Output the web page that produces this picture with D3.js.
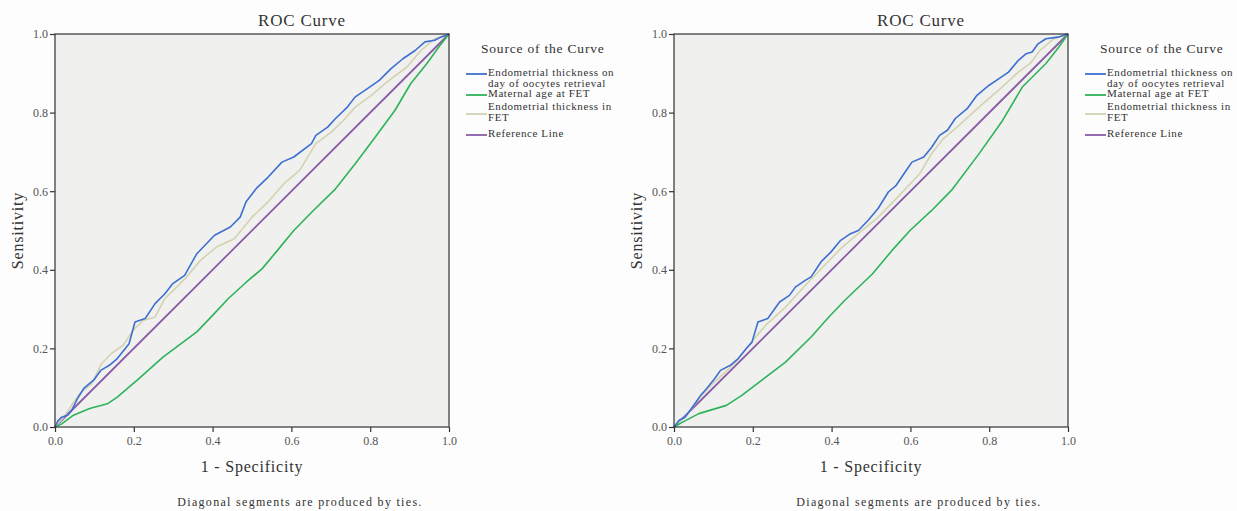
<!DOCTYPE html>
<html>
<head>
<meta charset="utf-8">
<script src="https://cdnjs.cloudflare.com/ajax/libs/d3/7.8.5/d3.min.js"></script>
<style>
  body { margin: 0; background: #fdfdfd; }
  svg { display: block; }
  text { font-family: "Liberation Serif", "DejaVu Serif", serif; }
</style>
</head>
<body>
<div id="chart"></div>
<script>
// ROC points, [1 - specificity, sensitivity]
var leftRetrieval = [[0,0],[0.007,0.015],[0.017,0.025],[0.032,0.03],[0.042,0.042],[0.057,0.072],[0.073,0.098],[0.098,0.119],[0.116,0.144],[0.138,0.157],[0.158,0.174],[0.188,0.212],[0.203,0.267],[0.229,0.276],[0.254,0.314],[0.279,0.339],[0.299,0.365],[0.329,0.386],[0.36,0.441],[0.38,0.462],[0.405,0.488],[0.445,0.509],[0.47,0.534],[0.485,0.573],[0.511,0.607],[0.541,0.636],[0.576,0.674],[0.606,0.687],[0.651,0.721],[0.662,0.742],[0.692,0.763],[0.712,0.785],[0.742,0.814],[0.762,0.84],[0.793,0.861],[0.823,0.882],[0.853,0.912],[0.883,0.937],[0.914,0.958],[0.939,0.98],[0.964,0.984],[0.979,0.992],[1,1]];
var leftAge = [[0,0],[0.017,0.008],[0.047,0.03],[0.088,0.047],[0.133,0.059],[0.158,0.076],[0.213,0.123],[0.274,0.178],[0.36,0.242],[0.4,0.284],[0.44,0.327],[0.486,0.369],[0.526,0.403],[0.561,0.445],[0.606,0.5],[0.652,0.547],[0.712,0.606],[0.762,0.67],[0.813,0.738],[0.863,0.806],[0.903,0.874],[0.944,0.925],[0.974,0.967],[1,1]];
var leftFet = [[0,0],[0.022,0.025],[0.042,0.055],[0.062,0.085],[0.093,0.11],[0.118,0.161],[0.143,0.187],[0.173,0.208],[0.198,0.246],[0.224,0.271],[0.254,0.28],[0.279,0.327],[0.309,0.356],[0.334,0.382],[0.369,0.424],[0.41,0.458],[0.455,0.479],[0.5,0.534],[0.541,0.573],[0.581,0.619],[0.621,0.653],[0.662,0.721],[0.702,0.751],[0.732,0.78],[0.762,0.814],[0.803,0.844],[0.843,0.878],[0.893,0.916],[0.929,0.958],[0.964,0.988],[1,1]];

var rightRetrieval = [[0,0],[0.013,0.017],[0.028,0.025],[0.053,0.059],[0.068,0.081],[0.083,0.098],[0.103,0.123],[0.118,0.144],[0.143,0.157],[0.163,0.174],[0.183,0.199],[0.198,0.216],[0.213,0.267],[0.238,0.276],[0.268,0.318],[0.293,0.335],[0.308,0.356],[0.333,0.373],[0.348,0.382],[0.373,0.42],[0.398,0.445],[0.423,0.475],[0.448,0.492],[0.468,0.5],[0.493,0.526],[0.518,0.556],[0.544,0.598],[0.564,0.615],[0.584,0.645],[0.604,0.674],[0.634,0.687],[0.654,0.712],[0.674,0.742],[0.694,0.755],[0.714,0.785],[0.744,0.81],[0.769,0.844],[0.799,0.869],[0.824,0.886],[0.849,0.903],[0.874,0.933],[0.894,0.95],[0.909,0.954],[0.924,0.975],[0.944,0.988],[0.974,0.992],[1,1]];
var rightAge = [[0,0],[0.023,0.013],[0.063,0.034],[0.133,0.055],[0.173,0.081],[0.223,0.119],[0.283,0.165],[0.348,0.229],[0.393,0.28],[0.433,0.322],[0.504,0.39],[0.554,0.45],[0.599,0.5],[0.654,0.551],[0.704,0.602],[0.774,0.695],[0.834,0.78],[0.884,0.865],[0.944,0.925],[0.974,0.963],[1,1]];
var rightFet = [[0,0],[0.028,0.025],[0.063,0.072],[0.103,0.115],[0.153,0.161],[0.193,0.212],[0.233,0.259],[0.283,0.305],[0.333,0.36],[0.378,0.407],[0.423,0.454],[0.463,0.488],[0.514,0.53],[0.564,0.581],[0.624,0.645],[0.654,0.696],[0.684,0.734],[0.724,0.768],[0.774,0.814],[0.824,0.857],[0.874,0.903],[0.904,0.925],[0.929,0.958],[0.964,0.988],[1,1]];

var referenceLine = [[0,0],[1,1]];
var tickValues = [0, 0.2, 0.4, 0.6, 0.8, 1.0];
var legendLabels = [["Endometrial thickness on", "day of oocytes retrieval"], ["Maternal age at FET"], ["Endometrial thickness in", "FET"], ["Reference Line"]];
var colors = ["#3d6fd2", "#2eb35a", "#d3d3b2", "#8a5ca6"];

var W = 1237, H = 511;
var svg = d3.select("#chart").append("svg").attr("width", W).attr("height", H);

function drawPanel(left, series) {
  var top = 34, w = 394, h = 393;
  var x = d3.scaleLinear().domain([0, 1]).range([0, w]);
  var y = d3.scaleLinear().domain([0, 1]).range([h, 0]);
  var g = svg.append("g").attr("transform", "translate(" + left + "," + top + ")");

  g.append("rect").attr("width", w).attr("height", h).attr("fill", "#f0f0ef");

  var line = d3.line().x(function(d) { return x(d[0]); }).y(function(d) { return y(d[1]); });
  // reference first, then the curves on top
  g.append("path").datum(referenceLine).attr("d", line)
    .attr("fill", "none").attr("stroke", colors[3]).attr("stroke-width", 1.8);
  [[series[2], colors[2]], [series[1], colors[1]], [series[0], colors[0]]].forEach(function(s) {
    g.append("path").datum(s[0]).attr("d", line)
      .attr("fill", "none").attr("stroke", s[1]).attr("stroke-width", 1.6)
      .attr("stroke-linejoin", "round");
  });

  g.append("rect").attr("width", w).attr("height", h)
    .attr("fill", "none").attr("stroke", "#333").attr("stroke-width", 1.2);

  var fmt = d3.format(".1f");
  var xa = g.append("g").attr("transform", "translate(0," + h + ")")
    .call(d3.axisBottom(x).tickValues(tickValues).tickFormat(fmt).tickSize(5).tickPadding(4));
  var ya = g.append("g")
    .call(d3.axisLeft(y).tickValues(tickValues).tickFormat(fmt).tickSize(5).tickPadding(2));
  [xa, ya].forEach(function(a) {
    a.select(".domain").remove();
    a.selectAll("line").attr("stroke", "#333").attr("stroke-width", 1.2);
    a.selectAll("text").attr("fill", "#555").style("font-size", "12px")
      .style("font-family", "'Liberation Serif', serif");
  });

  g.append("text").attr("x", 247).attr("y", -8).attr("text-anchor", "middle")
    .attr("fill", "#333").style("font-size", "17px").style("letter-spacing", "0.8px").text("ROC Curve");
  g.append("text").attr("transform", "translate(-32," + (h / 2) + ") rotate(-90)")
    .attr("text-anchor", "middle").attr("fill", "#333").style("font-size", "16px")
    .style("letter-spacing", "0.8px").text("Sensitivity");
  g.append("text").attr("x", w / 2).attr("y", h + 45).attr("text-anchor", "middle")
    .attr("fill", "#333").style("font-size", "16px").style("letter-spacing", "0.8px").text("1 - Specificity");
  g.append("text").attr("x", 245).attr("y", h + 79).attr("text-anchor", "middle")
    .attr("fill", "#333").style("font-size", "12px").style("letter-spacing", "1.3px")
    .text("Diagonal segments are produced by ties.");

  // legend
  var lg = g.append("g").attr("transform", "translate(" + (w + 17) + ",0)");
  lg.append("text").attr("x", 15).attr("y", 19).attr("fill", "#333")
    .style("font-size", "13.5px").style("letter-spacing", "0.8px").text("Source of the Curve");
  var rows = [[40, 42], [61, 63], [80, 76], [101, 103]];
  legendLabels.forEach(function(lbl, i) {
    lg.append("line").attr("x1", 0).attr("x2", 21).attr("y1", rows[i][0]).attr("y2", rows[i][0])
      .attr("stroke", colors[i]).attr("stroke-width", 1.8);
    lbl.forEach(function(t, j) {
      lg.append("text").attr("x", 22).attr("y", rows[i][1] + j * 11).attr("fill", "#333")
        .style("font-size", "11px").style("letter-spacing", "0.6px").text(t);
    });
  });
}

drawPanel(55, [leftRetrieval, leftAge, leftFet]);
drawPanel(674, [rightRetrieval, rightAge, rightFet]);
</script>
</body>
</html>
